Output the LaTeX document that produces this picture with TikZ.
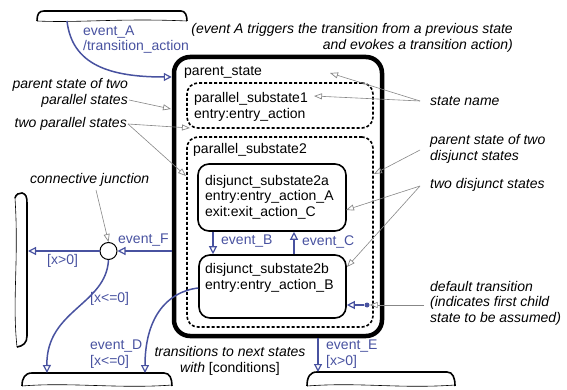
\documentclass[tikz,border=0pt]{standalone}
\usepackage{fontspec}
\setmainfont{Liberation Sans}
\usetikzlibrary{arrows.meta,calc}
\definecolor{tblue}{RGB}{72,82,160}
\definecolor{tgray}{RGB}{135,135,135}
\begin{document}
\begin{tikzpicture}[x=1pt,y=-1pt,
  every node/.style={font=\fontsize{14}{15.5}\selectfont, inner sep=0pt},
  parentbox/.style={draw, line width=4.5pt, rounded corners=16pt},
  parbox/.style={draw, line width=1.6pt, dash pattern=on 3pt off 2pt, rounded corners=11pt},
  statebox/.style={draw, line width=1.6pt, rounded corners=11pt},
  txt/.style={anchor=west, align=left},
  tlabel/.style={anchor=west, align=left, text=tblue},
  note/.style={font=\fontsize{14}{15.5}\selectfont\itshape},
  trans/.style={draw=tblue, line width=1.5pt, -{Triangle[open, length=8pt, width=8pt, line width=1.2pt]}},
  noteline/.style={draw=tgray, line width=0.6pt, -{Triangle[open, length=8pt, width=6pt, line width=0.7pt]}},
  thickedge/.style={line width=1.6pt},
  thinedge/.style={line width=0.6pt}
]
\useasboundingbox (0,0) rectangle (567,390);

% ---------- states ----------
\node[parentbox, minimum width=208pt, minimum height=279pt] (parent) at (278,196.5) {};
\node[parbox, minimum width=186pt, minimum height=45pt] (ps1) at (280,105.5) {};
\node[parbox, minimum width=186pt, minimum height=190pt] (ps2) at (280,232) {};
\node[statebox, minimum width=148pt, minimum height=67pt] (s2a) at (272,197.5) {};
\node[statebox, minimum width=147pt, minimum height=63pt] (s2b) at (272.5,286.5) {};

\node[txt] (tparent) at (184,72) {parent\_state};
\node[txt] (tps1) at (194,107) {parallel\_substate1\\entry:entry\_action};
\node[txt] (tps2) at (193,150) {parallel\_substate2};
\node[txt] (ts2a) at (205,197) {disjunct\_substate2a\\entry:entry\_action\_A\\exit:exit\_action\_C};
\node[txt] (ts2b) at (205,278) {disjunct\_substate2b\\entry:entry\_action\_B};

% ---------- junction and default dot ----------
\node[circle, draw, line width=1pt, minimum size=17pt, fill=white] (junc) at (108.5,251) {};
\node[circle, fill=tblue, minimum size=5pt] (defdot) at (367,305) {};

% ---------- partial states (fragments) ----------
\draw[thickedge] (37,21) .. controls (37,14) and (39,11) .. (44,11) -- (181,11) .. controls (185,11) and (187,15) .. (187,21);
\draw[thinedge] (37,21) .. controls (80,23) and (120,18) .. (187,21);

\draw[thickedge] (15,198) .. controls (16,194) and (19,193) .. (22,193) .. controls (26,194) and (27,197) .. (27,203) -- (27,336) .. controls (27,343) and (23,346) .. (17,347);
\draw[thinedge] (15,198) .. controls (19,260) and (12,300) .. (17,347);

\draw[thickedge] (22,386) .. controls (22,378) and (25,373) .. (32,373) -- (164,373) .. controls (170,373) and (172,379) .. (172,386);
\draw[thinedge] (22,386) .. controls (70,382) and (120,389) .. (172,385);

\draw[thickedge] (307,386) .. controls (307,377) and (310,372) .. (317,372) -- (447,372) .. controls (453,372) and (455,378) .. (455,386);
\draw[thinedge] (307,386) .. controls (360,382) and (400,389) .. (455,385);

% ---------- named coordinates ----------
\coordinate (fA) at (67,21);
\coordinate (yA) at (0,77);
\coordinate (fL) at (28,251);
\coordinate (fBL1) at (47,373);
\coordinate (fBL2) at (145,373);
\coordinate (fBR) at (318,372);
\coordinate (yD) at (0,288);
\coordinate (xB) at (213,0);
\coordinate (xC) at (294,0);
\coordinate (xE) at (318,0);

% ---------- transitions ----------
\draw[trans] (fA) .. controls (72,65) and (110,77) .. (parent.west |- yA);
\draw[trans] (parent.west |- junc) -- (junc.east);
\draw[trans] (junc.west) -- (fL);
\draw[trans] (junc.south) .. controls (106,305) and (46,310) .. (fBL1);
\draw[trans] (s2b.west |- yD) .. controls (165,292) and (145,320) .. (fBL2);
\draw[trans] (parent.south -| xE) -- (fBR);
\draw[trans] (s2a.south -| xB) -- (s2b.north -| xB);
\draw[trans] (s2b.north -| xC) -- (s2a.south -| xC);
\draw[trans] (defdot) -- (s2b.east |- defdot);

% ---------- transition labels ----------
\node[tlabel] (lA) at (83,39.5) {event\_A\\/transition\_action};
\node[tlabel] (lF) at (118,240) {event\_F};
\node[tlabel] (lxg) at (47,261) {[x>0]};
\node[tlabel] (lxl) at (90,299) {[x<=0]};
\node[tlabel] (lD) at (90,354) {event\_D\\{}[x<=0]};
\node[tlabel] (lE) at (326,354) {event\_E\\{}[x>0]};
\node[tlabel] (lB) at (221,241) {event\_B};
\node[tlabel] (lC) at (302,242) {event\_C};

% ---------- annotations ----------
\node[note, anchor=east, align=right] (nA) at (513,38) {(event A triggers the transition from a previous state\\and evokes a transition action)};
\node[note, anchor=east, align=right] (npar) at (128,93) {parent state of two\\parallel states};
\node[note, anchor=east] (ntwopar) at (127,124) {two parallel states};
\node[note, anchor=west] (nstate) at (430,101) {state name};
\node[note, anchor=west, align=left] (ndispar) at (430,149) {parent state of two\\disjunct states};
\node[note, anchor=west] (ntwodis) at (430,185) {two disjunct states};
\node[note, anchor=west] (njunc) at (30,180) {connective junction};
\node[note, align=center] (ntrans) at (230,361) {transitions to next states\\with {\upshape[conditions]}};
\node[note, anchor=west, align=left] (ndef) at (430,303) {default transition\\(indicates first child\\state to be assumed)};

% ---------- annotation pointers ----------
\coordinate (tPar) at (129,100);
\coordinate (hPar) at (171,109);
\coordinate (tTwoPar) at (128,124);
\coordinate (hTwoPar1) at (190,128);
\coordinate (hTwoPar2) at (186,176);
\coordinate (tState) at (420,101);
\coordinate (hState1) at (330,73);
\coordinate (hState2) at (314,96);
\coordinate (tDisPar) at (420,150);
\coordinate (hDisPar) at (374,174);
\coordinate (tTwoDis) at (420,186);
\coordinate (hTwoDis1) at (346,210);
\coordinate (hTwoDis2) at (347,267);
\coordinate (tJunc) at (96,190);
\coordinate (tDef) at (424,305);

\draw[noteline] (tPar) -- (hPar);
\draw[noteline] (tTwoPar) -- (hTwoPar1);
\draw[noteline] (tTwoPar) -- (hTwoPar2);
\draw[noteline] (tState) -- (hState1);
\draw[noteline] (tState) -- (hState2);
\draw[noteline] (tDisPar) -- (hDisPar);
\draw[noteline] (tTwoDis) -- (hTwoDis1);
\draw[noteline] (tTwoDis) -- (hTwoDis2);
\draw[noteline] (tJunc) -- (junc.north);
\draw[noteline] (tDef) -- (defdot);
\end{tikzpicture}
\end{document}
